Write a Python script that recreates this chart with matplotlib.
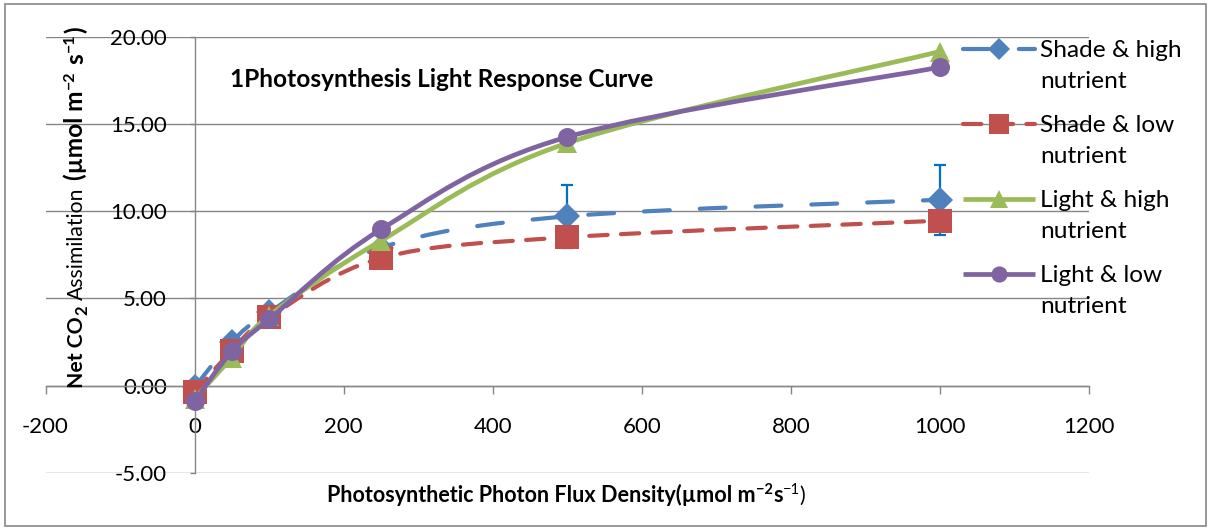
import matplotlib
matplotlib.use("Agg")
import matplotlib.pyplot as plt
from matplotlib.path import Path
from matplotlib.patches import PathPatch, Rectangle
from matplotlib.lines import Line2D
from matplotlib.transforms import IdentityTransform
import numpy as np

plt.rcParams['font.family'] = ['Lato', 'DejaVu Sans']
plt.rcParams['axes.unicode_minus'] = False

# ---------------- data ----------------
ppfd = [0, 50, 100, 250, 500, 1000]
shade_high = [-0.1, 2.5, 4.2, 7.9, 9.7, 10.65]
shade_high_err = [0.2, 0.2, 0.2, 0.2, 1.8, 2.0]
shade_low = [-0.4, 2.0, 3.9, 7.3, 8.5, 9.45]
light_high = [-0.75, 1.6, 4.0, 8.3, 13.9, 19.15]
light_low = [-0.9, 1.95, 3.8, 8.95, 14.25, 18.25]
series_names = ["Shade & high\nnutrient", "Shade & low\nnutrient",
                "Light & high\nnutrient", "Light & low\nnutrient"]
x_ticks = [-200, 0, 200, 400, 600, 800, 1000, 1200]
y_ticks = [-5, 0, 5, 10, 15, 20]
title_text = "1Photosynthesis Light Response Curve"

# ---------------- figure ----------------
W, H = 1209, 529
fig = plt.figure(figsize=(W / 100, H / 100), dpi=100)
fig.patch.set_facecolor('white')

GRAY = '#868686'
BLUE = '#4F81BD'
RED = '#C0504D'
GREEN = '#9BBB59'
PURPLE = '#8064A2'
ERRC = '#0070C0'

# outer chart border
fig.patches.append(Rectangle((5 / W, 3 / H), (1206 - 5) / W, (525 - 3) / H,
                             transform=fig.transFigure, fill=False,
                             edgecolor=GRAY, lw=1.2))

x_l, x_r = 45.5, 1089.0
y_t, y_b = 36.7, 472.7
ax = fig.add_axes([x_l / W, (H - y_b) / H, (x_r - x_l) / W, (y_b - y_t) / H])
ax.set_xlim(-200, 1200)
ax.set_ylim(-5, 20)
ax.set_facecolor('none')

for s in ['top', 'right']:
    ax.spines[s].set_visible(False)
ax.spines['left'].set_position(('data', 0))
ax.spines['bottom'].set_position(('data', 0))
for s in ['left', 'bottom']:
    ax.spines[s].set_color(GRAY)
    ax.spines[s].set_linewidth(1.0)

ax.set_xticks(x_ticks)
ax.set_yticks(y_ticks)
ax.set_yticklabels([f"{v:.2f}" for v in y_ticks])
ax.set_xticklabels([str(v) for v in x_ticks])
ax.tick_params(axis='x', direction='out', length=5.5, width=1.0, color=GRAY,
               pad=17.5, labelsize=16)
ax.tick_params(axis='y', direction='out', length=3.5, width=1.0, color=GRAY,
               pad=16.5, labelsize=16)
ax.yaxis.grid(True, color=GRAY, lw=1.0)
ax.set_axisbelow(True)


def smooth_path(xs, ys):
    P = np.column_stack([xs, ys]).astype(float)
    n = len(P)
    verts = [P[0]]
    codes = [Path.MOVETO]
    for i in range(n - 1):
        p0 = P[i - 1] if i > 0 else P[i]
        p1 = P[i]
        p2 = P[i + 1]
        p3 = P[i + 2] if i + 2 < n else P[i + 1]
        c1 = p1 + (p2 - p0) / 6.0
        c2 = p2 - (p3 - p1) / 6.0
        verts += [c1, c2, p2]
        codes += [Path.CURVE4] * 3
    return Path(np.array(verts), codes)


styles = [
    dict(data=shade_high, color=BLUE, ls=(0, (6.2, 7.2)), lw=3.0, marker='D', ms=13.2),
    dict(data=shade_low, color=RED, ls=(0, (4.4, 3.2)), lw=3.0, marker='s', ms=17.5),
    dict(data=light_high, color=GREEN, ls='-', lw=3.4, marker='^', ms=14.5),
    dict(data=light_low, color=PURPLE, ls='-', lw=3.4, marker='o', ms=13.7),
]

for k, st in enumerate(styles):
    z = 2 + k
    patch = PathPatch(smooth_path(ppfd, st['data']), fill=False,
                      edgecolor=st['color'], lw=st['lw'], linestyle=st['ls'],
                      capstyle='round', joinstyle='round', zorder=z)
    ax.add_patch(patch)
    if k == 0:
        ax.errorbar(ppfd, st['data'], yerr=shade_high_err, fmt='none',
                    ecolor=ERRC, elinewidth=1.6, capsize=4.3, capthick=1.6,
                    zorder=z + 0.1)
    ax.plot(ppfd, st['data'], linestyle='none', marker=st['marker'],
            ms=st['ms'], color=st['color'], markeredgewidth=0, zorder=z + 0.2)

# ---------------- legend (manual) ----------------
ident = IdentityTransform()


def py(ypx):
    return H - ypx


for k, st in enumerate(styles):
    yb = 57 + 75 * k
    yc = yb - 8
    fig.lines.append(Line2D([963, 1035], [py(yc), py(yc)], transform=ident,
                            color=st['color'], lw=st['lw'], linestyle=st['ls'],
                            dash_capstyle='round', solid_capstyle='butt'))
    fig.lines.append(Line2D([999], [py(yc)], transform=ident, color=st['color'],
                            marker=st['marker'], ms=st['ms'] * 0.85,
                            markeredgewidth=0, linestyle='none'))
    l1, l2 = series_names[k].split('\n')
    fig.text(1040, py(yb), l1, transform=ident, fontsize=17.6, ha='left',
             va='baseline', color='black')
    fig.text(1040, py(yb + 31), l2, transform=ident, fontsize=17.6, ha='left',
             va='baseline', color='black')

# ---------------- title ----------------
fig.text(230, py(87), title_text, transform=ident, fontsize=17.6,
         fontweight='bold', ha='left', va='baseline')

# ---------------- rich axis labels ----------------
renderer = fig.canvas.get_renderer()


def piece_width(s, size, weight):
    t = fig.text(0, 0, s, fontsize=size, fontweight=weight, transform=ident)
    w = t.get_window_extent(renderer).width
    t.remove()
    return w


def rich(x0, y0, pieces, rotation=0):
    # pieces: (text, size, weight, shift_up_px, gap_before_px)
    pos = 0.0
    for s, size, weight, shift, gap in pieces:
        pos += gap
        if rotation == 0:
            x, y = x0 + pos, y0 + shift
        else:
            x, y = x0 - shift, y0 + pos
        fig.text(x, y, s, fontsize=size, fontweight=weight, transform=ident,
                 rotation=rotation, rotation_mode='anchor', ha='left',
                 va='baseline')
        pos += piece_width(s, size, weight)


# x label
rich(327, py(502), [
    ("Photosynthetic Photon Flux", 15.5, 'bold', 0, 0),
    ("Density(µmol m", 15.6, 'bold', 0, 5),
    ("−2", 10.5, 'bold', 8, 1),
    ("s", 15.6, 'bold', 0, 0),
    ("−1", 10.5, 'normal', 8, 0),
    (")", 15.6, 'normal', 0, 0),
])

# y label (rotated)
rich(83, py(388), [
    ("Net CO", 15.2, 'bold', 0, 0),
    ("2", 12, 'bold', -4, 1),
    ("Assimilation", 15.2, 'normal', 0, 6),
    ("(µmol m", 17.6, 'bold', 0, 7),
    ("−2", 11.5, 'bold', 9, 2),
    ("s", 17.6, 'bold', 0, 6),
    ("−1", 11.5, 'bold', 9, 1),
    (")", 17.6, 'bold', 0, 1),
], rotation=90)

fig.savefig("out.png", dpi=100)
